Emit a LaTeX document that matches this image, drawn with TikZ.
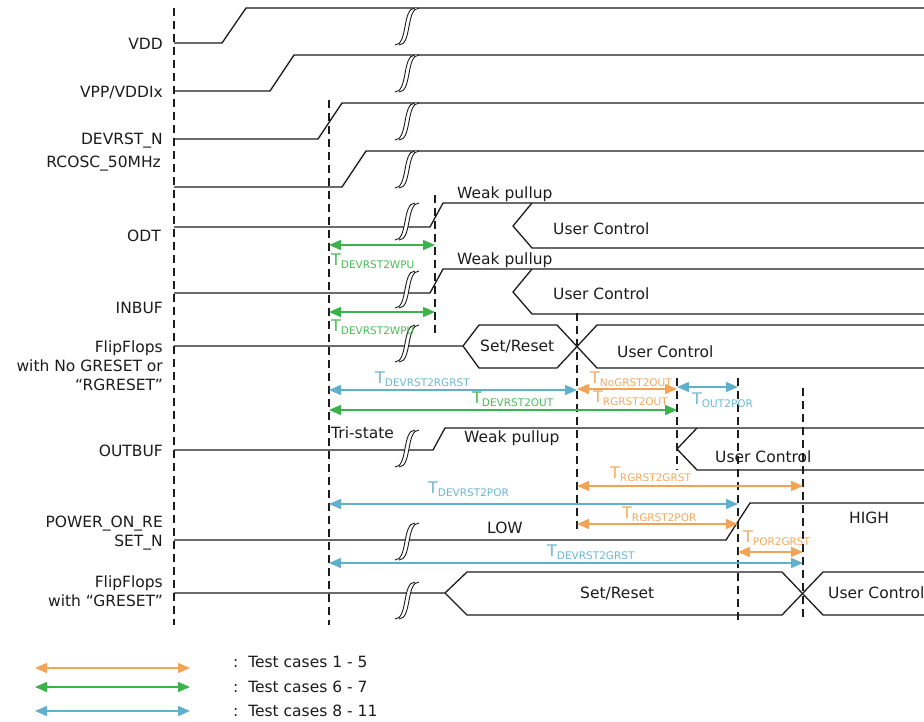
\documentclass[tikz,border=0pt]{standalone}
\usepackage{fontspec}
\setmainfont{DejaVu Sans}
\usetikzlibrary{arrows.meta}
\definecolor{tcOrange}{RGB}{242,163,85}
\definecolor{tcGreen}{RGB}{58,180,74}
\definecolor{tcBlue}{RGB}{96,175,205}
\definecolor{tcOrangeTxt}{RGB}{244,170,98}
\definecolor{tcGreenTxt}{RGB}{75,188,88}
\definecolor{tcBlueTxt}{RGB}{110,184,214}
\definecolor{sigInk}{RGB}{28,28,28}
\newcommand\tname[1]{{\fontsize{16}{18}\selectfont T}\raisebox{-3pt}{\fontsize{10.5}{12}\selectfont #1}}

\begin{document}
\begin{tikzpicture}[x=1pt,y=-1pt,
    sig/.style={sigInk,line width=1.3pt,line join=miter},
    tmark/.style={sigInk,line width=1.1pt,dash pattern=on 8pt off 5pt},
    tip/.tip={Triangle[length=12pt,width=10pt]},
    dimO/.style={tcOrange,line width=1.4pt,tip-tip},
    dimG/.style={tcGreen,line width=1.4pt,tip-tip},
    dimB/.style={tcBlue,line width=1.4pt,tip-tip},
    lbl/.style={anchor=base east,align=right,inner sep=0pt,text=sigInk,font=\fontsize{15.5}{19}\selectfont},
    txt/.style={anchor=base west,inner sep=0pt,text=sigInk,font=\fontsize{15.5}{19}\selectfont},
    tlbl/.style={anchor=base west,inner sep=0pt},
    brk/.pic={
      \fill[white] (0,0) .. controls (13,0) and (7,-37) .. (20,-37) -- (24,-37)
        .. controls (11,-37) and (17,0) .. (4,0) -- cycle;
      \draw[sigInk,line width=0.9pt] (0,0) .. controls (13,0) and (7,-37) .. (20,-37);
      \draw[sigInk,line width=0.9pt] (4,0) .. controls (17,0) and (11,-37) .. (24,-37);
    }]
  \useasboundingbox (0,0) rectangle (924,721);
  \clip (0,0) rectangle (924,721);
  \fill[white] (0,0) rectangle (924,721);

  \coordinate (m0) at (174,0);
  \coordinate (m1) at (329,0);
  \coordinate (m2) at (435,0);
  \coordinate (m3) at (577,0);
  \coordinate (m4) at (677,0);
  \coordinate (m5) at (738,0);
  \coordinate (m6) at (803,0);
  \foreach \m/\ya/\yb in {m0/8/625,m1/100/625,m2/195/335,m3/313/530,
                          m4/378/470,m5/378/620,m6/388/620}
    {\draw[tmark] (\m |- 0,\ya) -- (\m |- 0,\yb);}

  \node[lbl] (vdd) at (163,49) {VDD};
  \node[lbl] (vpp) at (163,97) {VPP/VDDIx};
  \node[lbl] (devrst) at (163,144) {DEVRST\_N};
  \node[lbl] (rcosc) at (161,167) {RCOSC\_50MHz};
  \node[lbl] (odt) at (161,241) {ODT};
  \node[lbl] (inbuf) at (163,313) {INBUF};
  \node[lbl] (ffno) at (163,390) {FlipFlops\\with No GRESET or\\“RGRESET”};
  \node[lbl] (outbuf) at (163,456) {OUTBUF};
  \node[lbl] (por) at (163,546) {POWER\_ON\_RE\\SET\_N};
  \node[lbl] (ffg) at (163,606) {FlipFlops\\with “GRESET”};

  \draw[sig] (m0 |- 0,43) -- (222,43) -- (246,8) -- (924,8);
  \draw[sig] (m0 |- 0,91) -- (270,91) -- (294,55) -- (924,55);
  \draw[sig] (m0 |- 0,139) -- (318,139) -- (342,103) -- (924,103);
  \draw[sig] (m0 |- 0,187) -- (342,187) -- (366,151) -- (924,151);
  \draw[sig] (m0 |- 0,227) -- (430,227) -- (443,203) -- (924,203);
  \draw[sig] (924,248) -- (532,248) -- (513,226) -- (532,203);
  \draw[sig] (m0 |- 0,293) -- (430,293) -- (443,269) -- (924,269);
  \draw[sig] (924,314) -- (532,314) -- (513,292) -- (532,269);
  \draw[sig] (m0 |- 0,346) -- (463,346) -- (479,325) -- (557,325) -- (597,368) -- (924,368);
  \draw[sig] (463,346) -- (479,368) -- (557,368) -- (597,325) -- (924,325);
  \draw[sig] (m0 |- 0,450) -- (433,450) -- (445,428) -- (924,428);
  \draw[sig] (924,470) -- (697,470) -- (677,449) -- (697,428);
  \draw[sig] (m0 |- 0,540) -- (726,540) -- (750,503) -- (924,503);
  \draw[sig] (m0 |- 0,593) -- (445,593) -- (467,572) -- (782,572) -- (823,615) -- (924,615);
  \draw[sig] (445,593) -- (467,615) -- (782,615) -- (823,572) -- (924,572);
  \foreach \yb in {45,92,140,188,240,308,362,467,560,619}
    {\pic at (395,\yb) {brk};}

  \node[txt] (wp1) at (457,198) {Weak pullup};
  \node[txt] (uc1) at (553,234) {User Control};
  \node[txt] (wp2) at (457,264) {Weak pullup};
  \node[txt] (uc2) at (553,299) {User Control};
  \node[txt] (sr1) at (480,351) {Set/Reset};
  \node[txt] (uc3) at (617,357) {User Control};
  \node[txt] (tri) at (331,438) {Tri-state};
  \node[txt] (wp3) at (464,442) {Weak pullup};
  \node[txt] (uc4) at (715,462) {User Control};
  \node[txt] (low) at (487,533) {LOW};
  \node[txt] (high) at (849,523) {HIGH};
  \node[txt] (sr2) at (580,598) {Set/Reset};
  \node[txt] (uc5) at (828,598) {User Control};

  \draw[dimG] (m1 |- 0,245) -- (m2 |- 0,245);
  \draw[dimG] (m1 |- 0,312) -- (m2 |- 0,312);
  \draw[dimB] (m1 |- 0,390) -- (m3 |- 0,390);
  \draw[dimO] (m3 |- 0,389) -- (m4 |- 0,389);
  \draw[dimB] (m4 |- 0,387) -- (m5 |- 0,387);
  \draw[dimG] (m1 |- 0,410) -- (m4 |- 0,410);
  \draw[dimO] (m3 |- 0,486) -- (m6 |- 0,486);
  \draw[dimB] (m1 |- 0,504) -- (m5 |- 0,504);
  \draw[dimO] (m3 |- 0,524) -- (m5 |- 0,524);
  \draw[dimO] (m5 |- 0,552) -- (m6 |- 0,552);
  \draw[dimB] (m1 |- 0,563) -- (m6 |- 0,563);

  \node[tlbl,text=tcGreenTxt] (twpu1) at (331,265) {\tname{DEVRST2WPU}};
  \node[tlbl,text=tcGreenTxt] (twpu2) at (331,331) {\tname{DEVRST2WPU}};
  \node[tlbl,text=tcBlueTxt] (trgrst) at (375,383) {\tname{DEVRST2RGRST}};
  \node[tlbl,text=tcOrangeTxt] (tnogrst) at (590,383) {\tname{NoGRST2OUT}};
  \node[tlbl,text=tcOrangeTxt] (trgout) at (593,402) {\tname{RGRST2OUT}};
  \node[tlbl,text=tcBlueTxt] (tout) at (692,404) {\tname{OUT2POR}};
  \node[tlbl,text=tcGreenTxt] (tdevout) at (472,403) {\tname{DEVRST2OUT}};
  \node[tlbl,text=tcOrangeTxt] (trggrst) at (610,478) {\tname{RGRST2GRST}};
  \node[tlbl,text=tcBlueTxt] (tdevpor) at (428,493) {\tname{DEVRST2POR}};
  \node[tlbl,text=tcOrangeTxt] (trgpor) at (622,518) {\tname{RGRST2POR}};
  \node[tlbl,text=tcOrangeTxt] (tporg) at (743,542) {\tname{POR2GRST}};
  \node[tlbl,text=tcBlueTxt] (tdevg) at (547,556) {\tname{DEVRST2GRST}};

  \foreach \k/\y/\ty/\st/\cases in {1/668/667/dimO/1 - 5,2/687/692/dimG/6 - 7,3/711/716/dimB/8 - 11}
    {\coordinate (key\k a) at (35,\y);
     \coordinate (key\k b) at (190,\y);
     \draw[\st] (key\k a) -- (key\k b);
     \node[txt] (case\k) at (233,\ty) {:~~Test cases \cases};}
\end{tikzpicture}
\end{document}
